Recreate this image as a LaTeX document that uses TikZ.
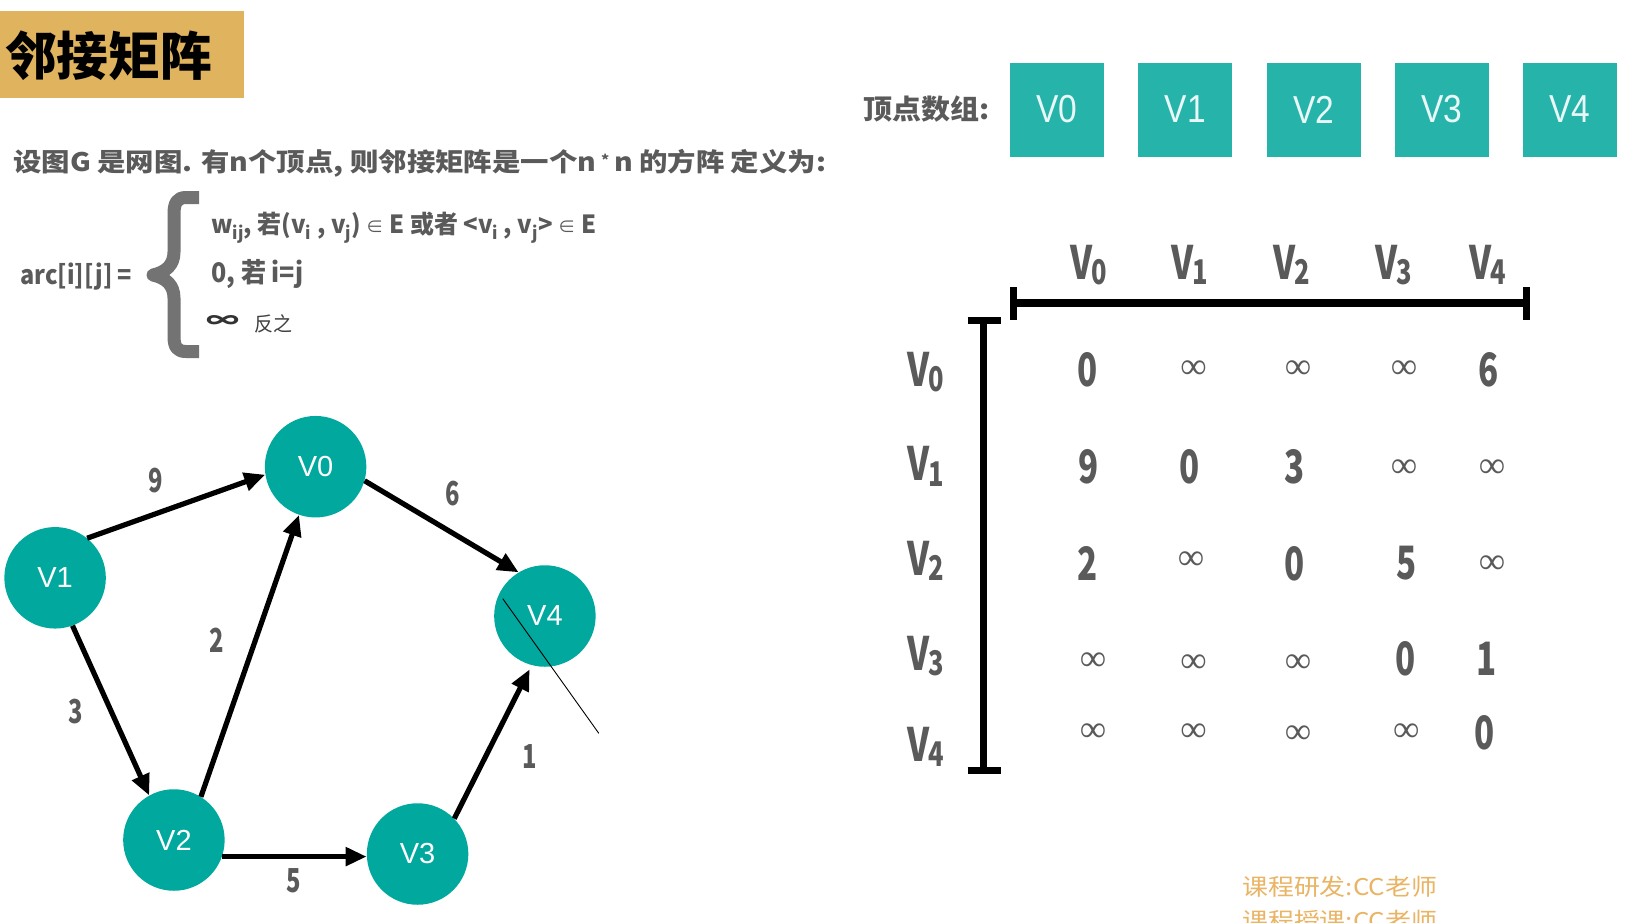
\documentclass[tikz,border=0pt]{standalone}
\usepackage{fontspec}
\usepackage{graphicx}
\setmainfont{Liberation Sans}
\newfontfamily\cjk{Noto Sans CJK SC}
\newfontfamily\serifinf{Liberation Serif}
\usetikzlibrary{arrows.meta}
\definecolor{tealA}{HTML}{00A89E}
\definecolor{tealB}{HTML}{26B4AA}
\definecolor{goldbox}{HTML}{E0B45E}
\definecolor{greytxt}{HTML}{5A5A5A}
\definecolor{footer}{HTML}{E9B463}
\newcommand\fsz[1]{\fontsize{#1}{#1}\selectfont}
\newcommand\fitw[2]{\resizebox{#1}{\height}{#2}}
\newcommand\cnd[1]{\scalebox{0.72}[1]{#1}}
\newcommand\Vs[1]{\scalebox{0.75}[1]{V\kern-0.02em\raisebox{-0.12em}{\fsz{34}#1}}}
\begin{document}
\begin{tikzpicture}[x=1pt,y=-1pt,
  vert/.style={circle,fill=tealA,minimum size=101.5pt,inner sep=0pt,text=white,font=\fsz{29}},
  abox/.style={fill=tealB,minimum width=94pt,minimum height=94pt,inner sep=0pt,text=white!90!tealB,font=\fsz{39}},
  edge/.style={line width=5.2pt,-{Triangle[length=21pt,width=18pt]}},
  elab/.style={text=greytxt,font=\cjk\bfseries\fsz{33},inner sep=0pt},
  num/.style={text=greytxt,font=\cjk\bfseries\fsz{46},inner sep=0pt},
  infs/.style={text=greytxt,font=\serifinf\fsz{37},inner sep=0pt},
  hdr/.style={text=greytxt,font=\cjk\bfseries\fsz{46},inner sep=0pt},
  txt/.style={inner sep=0pt,text=greytxt}]
\useasboundingbox (0,0) rectangle (1634,922);
\fill[white] (0,0) rectangle (1634,922);
\clip (0,0) rectangle (1634,922);

% title
\fill[goldbox] (0,11) rectangle (243.5,98);
\node[inner sep=0pt,font=\cjk\bfseries\fsz{52},text=black] (title) at (108.5,55.5) {\fitw{207pt}{邻接矩阵}};

% definition
\node[txt,anchor=west,font=\cjk\bfseries\fsz{25.5}] (def) at (13,163.5)
  {\fitw{813pt}{设图G 是网图. 有n个顶点, 则邻接矩阵是一个n\,\raisebox{0.25em}{\fsz{14}*}\,n 的方阵 定义为:}};
\node[txt,anchor=west,font=\cjk\bfseries\fsz{26}] (arc) at (20,277) {\fitw{112pt}{arc[i][j] =}};
\draw[color=greytxt!85!white,line width=13pt,line join=round]
  (199,197.5) -- (186,197.5) .. controls (177,197.5) and (174,203) .. (174,214)
  -- (174,252) .. controls (174,265) and (166,272) .. (153,275)
  .. controls (166,278) and (174,285) .. (174,298)
  -- (174,336) .. controls (174,347) and (177,351.5) .. (186,351.5) -- (199,351.5);
\node[txt,anchor=west,font=\cjk\bfseries\fsz{25}] (c1) at (211,228)
  {\fitw{385pt}{w\textsubscript{ij}, 若(v\textsubscript{i} , v\textsubscript{j}) {\cjk\mdseries\fsz{18}∈} E 或者 <v\textsubscript{i} , v\textsubscript{j}> {\cjk\mdseries\fsz{18}∈} E}};
\node[txt,anchor=west,font=\cjk\bfseries\fsz{27}] (c2) at (211,274) {\fitw{92pt}{0, 若 i=j}};
\node[txt,anchor=center,font=\cjk\bfseries\fsz{30},text=black!80] (c3) at (222.5,322) {\resizebox{33pt}{13pt}{∞}};
\node[txt,anchor=west,font=\cjk\fsz{20},text=black!75] (c3b) at (254,324) {\fitw{38pt}{反之}};

% vertex array
\node[txt,anchor=west,font=\cjk\bfseries\fsz{27.5}] (arrlab) at (863,109.5) {\fitw{126pt}{顶点数组:}};
\foreach \i/\x in {0/1056.6,1/1185.3,2/1313.5,3/1441.7,4/1570}{
  \node[abox] (A\i) at (\x,109.5) {\scalebox{0.86}[1]{V\i}};
}

% graph
\node[vert] (V0) at (315.6,466.7) {V0};
\node[vert] (V1) at (55.1,577.8) {V1};
\node[vert] (V2) at (173.9,840) {V2};
\node[vert] (V3) at (417.6,854) {V3};
\node[vert] (V4) at (544.9,616) {V4};
\draw[edge] (V1.51) -- (V0.189);
\draw[edge] (V0.-16) -- (V4.121);
\draw[edge] (V1.-70) -- (V2.119);
\draw[edge] (V2.58) -- (V0.-109);
\draw[edge] (V2.-19) -- (V2.-19 -| V3.west);
\draw[edge] (V3.44) -- ([shift={(-106:4.5pt)}]V4.-106);
\coordinate (s1) at (502.8,598.7);
\coordinate (s2) at (598.8,733.3);
\draw[line width=0.9pt] (s1) -- (s2);
\node[elab] (l9) at (156,481) {\cnd{9}};
\node[elab] (l6) at (452.6,494) {\cnd{6}};
\node[elab] (l2) at (216.6,640.5) {\cnd{2}};
\node[elab] (l3) at (75.9,711.7) {\cnd{3}};
\node[elab] (l1) at (529.6,757) {\cnd{1}};
\node[elab] (l5) at (293.5,880.7) {\cnd{5}};

% matrix frame
\coordinate (h1) at (1013.6,303);
\coordinate (h2) at (1526.6,303);
\draw[line width=8pt] (h1) -- (h2);
\draw[line width=7pt] ([yshift=-17pt]h1) -- ([yshift=16pt]h1);
\draw[line width=7pt] ([yshift=-17pt]h2) -- ([yshift=16pt]h2);
\coordinate (v1) at (983.5,320);
\coordinate (v2) at (983.5,770);
\draw[line width=7.5pt] (v1) -- (v2);
\draw[line width=7pt] ([xshift=-16pt]v1) -- ([xshift=17pt]v1);
\draw[line width=7pt] ([xshift=-16pt]v2) -- ([xshift=17pt]v2);

% headers
\foreach \i/\x in {0/1089,1/1190,2/1292,3/1394,4/1488}{
  \node[hdr] (H\i) at (\x,265) {\Vs{\i}};
}
\foreach \i/\y in {0/372,1/466.6,2/561,3/656,4/747}{
  \node[hdr] (R\i) at (925.7,\y) {\Vs{\i}};
}

% entries
\node[num] (m00) at (1087.7,370) {\cnd{0}};
\node[infs] (m01) at (1193.5,370) {∞};
\node[infs] (m02) at (1298,370) {∞};
\node[infs] (m03) at (1404,370) {∞};
\node[num] (m04) at (1489,370) {\cnd{6}};
\node[num] (m10) at (1089,466.4) {\cnd{9}};
\node[num] (m11) at (1190,466.4) {\cnd{0}};
\node[num] (m12) at (1295,466.4) {\cnd{3}};
\node[infs] (m13) at (1404,469) {∞};
\node[infs] (m14) at (1492,469) {∞};
\node[num] (m20) at (1088,563) {\cnd{2}};
\node[infs] (m21) at (1191,561) {∞};
\node[num] (m22) at (1295,563.6) {\cnd{0}};
\node[num] (m23) at (1406.4,563.6) {\cnd{5}};
\node[infs] (m24) at (1492,565) {∞};
\node[infs] (m30) at (1093,662) {∞};
\node[infs] (m31) at (1193.5,663.6) {∞};
\node[infs] (m32) at (1298,664) {∞};
\node[num] (m33) at (1405.5,659) {\cnd{0}};
\node[num] (m34) at (1487,658.6) {\cnd{1}};
\node[infs] (m40) at (1093,733) {∞};
\node[infs] (m41) at (1193.5,733) {∞};
\node[infs] (m42) at (1298,735) {∞};
\node[infs] (m43) at (1406.4,733) {∞};
\node[num] (m44) at (1485,733) {\cnd{0}};

% footer
\node[inner sep=0pt,anchor=west,text=footer,font=\cjk\fsz{23}] (f1) at (1242,886.5) {\fitw{195pt}{课程研发:CC老师}};
\node[inner sep=0pt,anchor=west,text=footer,font=\cjk\fsz{23}] (f2) at (1242,920.5) {\fitw{195pt}{课程授课:CC老师}};
\end{tikzpicture}
\end{document}
